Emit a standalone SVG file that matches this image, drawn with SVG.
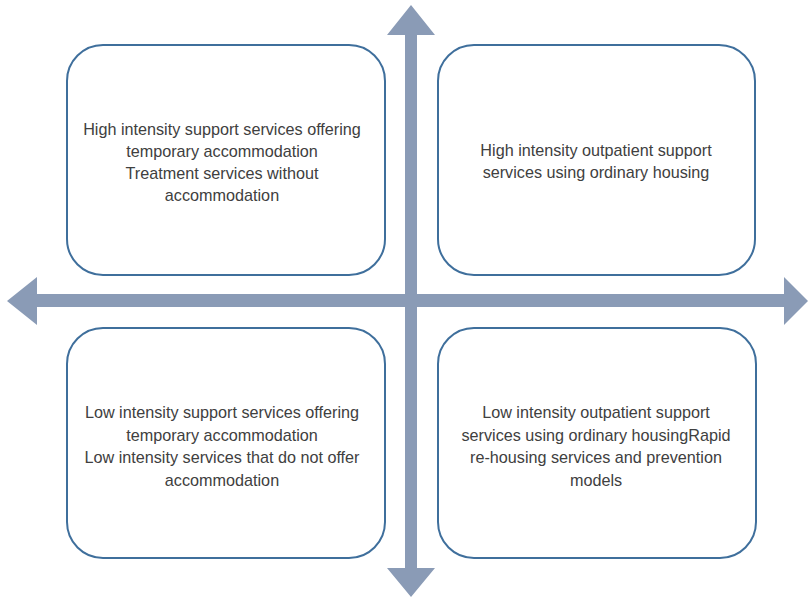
<svg xmlns="http://www.w3.org/2000/svg" width="808" height="597" viewBox="0 0 808 597">
<style>
.box{fill:#ffffff;stroke:#3f6f9c;stroke-width:2}
.t{font-family:"Liberation Sans",Arial,sans-serif;font-size:16.2px;fill:#404040;text-anchor:middle}
.ax{fill:#8a9bb6}
</style>
<rect width="808" height="597" fill="#ffffff"/>
<g id="node-high-temp">
<rect class="box" x="67" y="45" width="318" height="230" rx="36"/>
<text class="t" x="222" y="135">High intensity support services offering</text>
<text class="t" x="222" y="157">temporary accommodation</text>
<text class="t" x="222" y="179">Treatment services without</text>
<text class="t" x="222" y="201">accommodation</text>
</g>
<g id="node-high-out">
<rect class="box" x="438" y="45" width="317" height="230" rx="36"/>
<text class="t" x="596" y="156">High intensity outpatient support</text>
<text class="t" x="596" y="178">services using ordinary housing</text>
</g>
<g id="node-low-temp">
<rect class="box" x="67" y="328" width="318" height="230" rx="36"/>
<text class="t" x="222" y="418">Low intensity support services offering</text>
<text class="t" x="222" y="441">temporary accommodation</text>
<text class="t" x="222" y="463">Low intensity services that do not offer</text>
<text class="t" x="222" y="486">accommodation</text>
</g>
<g id="node-low-out">
<rect class="box" x="438" y="328" width="318" height="230" rx="36"/>
<text class="t" x="596" y="418">Low intensity outpatient support</text>
<text class="t" x="596" y="441">services using ordinary housingRapid</text>
<text class="t" x="596" y="463">re-housing services and prevention</text>
<text class="t" x="596" y="486">models</text>
</g>
<g id="connectors">
<polygon class="ax" points="411,5 435,35 417,35 417,568 435,568 411,597 387,568 405,568 405,35 387,35"/>
<polygon class="ax" points="7,301 37,277 37,294 784,294 784,277 808,301 784,325 784,307 37,307 37,325"/>
</g>
</svg>
